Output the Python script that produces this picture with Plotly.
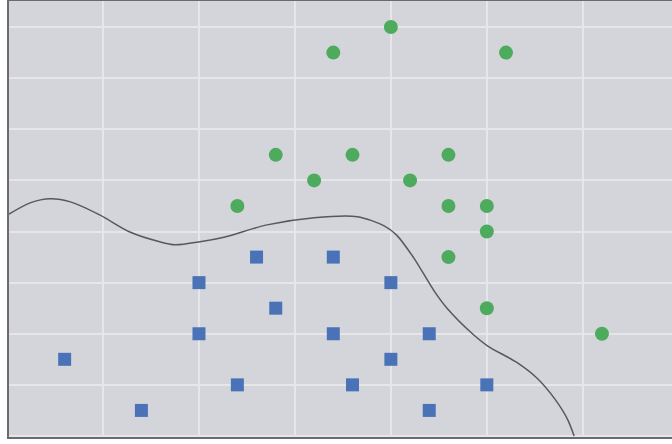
import plotly.graph_objects as go

# Class A (green circles)
green_x = [4.0, 3.4, 5.2, 2.8, 3.6, 4.6, 3.2, 4.2, 2.4, 4.6, 5.0, 5.0, 4.6, 5.0, 6.2]
green_y = [8.0, 7.5, 7.5, 5.5, 5.5, 5.5, 5.0, 5.0, 4.5, 4.5, 4.5, 4.0, 3.5, 2.5, 2.0]

# Class B (blue squares)
blue_x = [2.6, 3.4, 2.0, 4.0, 2.8, 2.0, 3.4, 4.4, 0.6, 4.0, 2.4, 3.6, 5.0, 1.4, 4.4]
blue_y = [3.5, 3.5, 3.0, 3.0, 2.5, 2.0, 2.0, 2.0, 1.5, 1.5, 1.0, 1.0, 1.0, 0.5, 0.5]

# Decision boundary
bound_x = [0.02, 0.24, 0.45, 0.66, 0.97, 1.28, 1.59, 1.75, 2.01, 2.26, 2.71, 3.20,
           3.65, 3.93, 4.06, 4.24, 4.45, 4.59, 4.85, 5.01, 5.32, 5.53, 5.71, 5.84, 5.91]
bound_y = [4.34, 4.56, 4.64, 4.58, 4.32, 3.99, 3.80, 3.74, 3.80, 3.89, 4.13, 4.27,
           4.29, 4.11, 3.93, 3.48, 2.84, 2.49, 2.00, 1.76, 1.43, 1.12, 0.72, 0.33, 0.0]

fig = go.Figure()
fig.add_trace(go.Scatter(x=bound_x, y=bound_y, mode="lines",
                         line=dict(color="#58585c", width=1.5, shape="spline", smoothing=0.8),
                         showlegend=False, hoverinfo="skip"))
fig.add_trace(go.Scatter(x=blue_x, y=blue_y, mode="markers",
                         marker=dict(symbol="square", size=13, color="#4a72b7"),
                         showlegend=False))
fig.add_trace(go.Scatter(x=green_x, y=green_y, mode="markers",
                         marker=dict(symbol="circle", size=14, color="#4eab5e"),
                         showlegend=False))

fig.update_layout(
    width=672, height=444,
    margin=dict(l=9, r=0, t=1, b=7),
    paper_bgcolor="white",
    plot_bgcolor="#d4d5da",
    showlegend=False,
)
fig.update_xaxes(range=[0.02, 6.93], dtick=1, tick0=0, showticklabels=False,
                 showgrid=True, gridcolor="#e6e6e9", gridwidth=2, zeroline=False,
                 showline=True, linecolor="#6b6b6f", linewidth=2, mirror=True, ticks="")
fig.update_yaxes(range=[-0.02, 8.51], dtick=1, tick0=0, showticklabels=False,
                 showgrid=True, gridcolor="#e6e6e9", gridwidth=2, zeroline=False,
                 showline=True, linecolor="#6b6b6f", linewidth=2, mirror=False, ticks="")

fig.write_html("out.html", config={"displayModeBar": False},
               post_script="document.body.style.margin='0';document.body.style.overflow='hidden';")
